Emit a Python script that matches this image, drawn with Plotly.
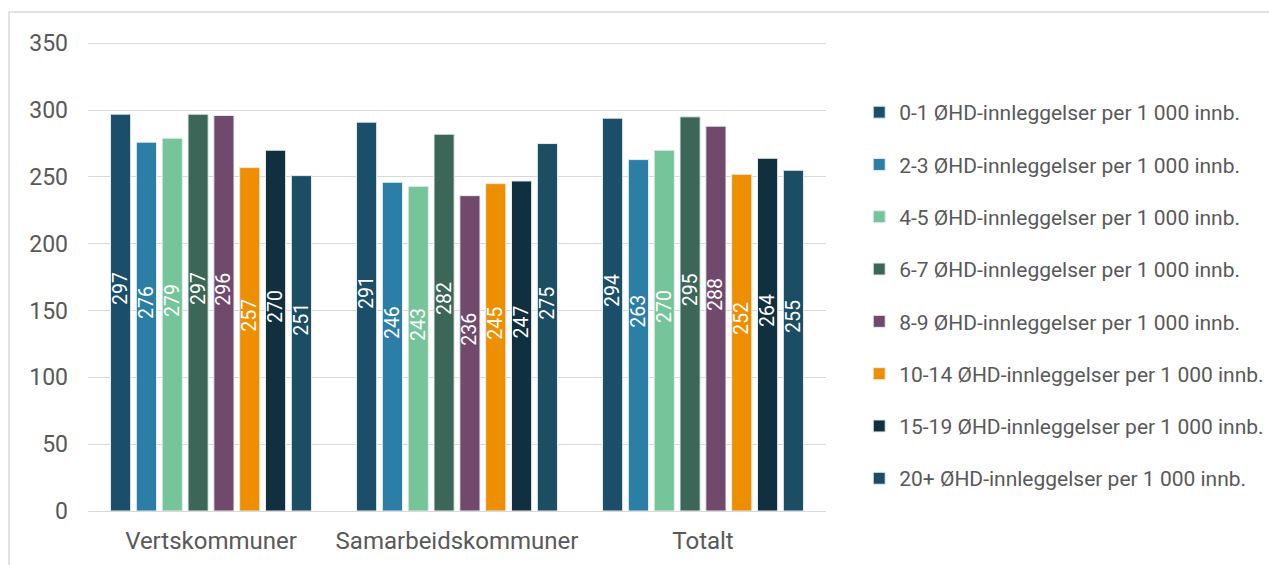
import plotly.graph_objects as go

categories = ["Vertskommuner", "Samarbeidskommuner", "Totalt"]
series_names = [
    "0-1 ØHD-innleggelser per 1 000 innb.",
    "2-3 ØHD-innleggelser per 1 000 innb.",
    "4-5 ØHD-innleggelser per 1 000 innb.",
    "6-7 ØHD-innleggelser per 1 000 innb.",
    "8-9 ØHD-innleggelser per 1 000 innb.",
    "10-14 ØHD-innleggelser per 1 000 innb.",
    "15-19 ØHD-innleggelser per 1 000 innb.",
    "20+ ØHD-innleggelser per 1 000 innb.",
]
values_0_1 = [297, 291, 294]
values_2_3 = [276, 246, 263]
values_4_5 = [279, 243, 270]
values_6_7 = [297, 282, 295]
values_8_9 = [296, 236, 288]
values_10_14 = [257, 245, 252]
values_15_19 = [270, 247, 264]
values_20p = [251, 275, 255]
series_values = [values_0_1, values_2_3, values_4_5, values_6_7,
                 values_8_9, values_10_14, values_15_19, values_20p]
colors = ["#1b4f69", "#2b7fa7", "#76c59a", "#3c6657",
          "#70496c", "#ee8f00", "#11303f", "#1b4d63"]

# Label placement: labels sit a little above the bar middle, as in the original
LABEL_LIFT = 36

fig = go.Figure()
for i, (name, vals, col) in enumerate(zip(series_names, series_values, colors)):
    fig.add_trace(go.Bar(
        name=name, x=categories, y=vals,
        marker=dict(color=col, line=dict(color="#e6ecef", width=1)),
        offsetgroup=str(i), legendgroup=f"g{i}",
        hoverinfo="y",
    ))
for i, vals in enumerate(series_values):
    fig.add_trace(go.Bar(
        x=categories, y=[v + LABEL_LIFT for v in vals],
        marker=dict(color="rgba(0,0,0,0)", line=dict(width=0)),
        text=[str(v) for v in vals], textposition="inside",
        insidetextanchor="middle", textangle=-90, constraintext="none",
        textfont=dict(color="white", size=19.5, family="Roboto"),
        offsetgroup=str(i), showlegend=False, hoverinfo="skip",
    ))

fig.update_layout(
    width=1269, height=565,
    barmode="group", bargap=0.16, bargroupgap=0.22,
    plot_bgcolor="white", paper_bgcolor="white",
    margin=dict(l=88, r=443, t=42, b=54, autoexpand=False),
    font=dict(family="Roboto", color="#595959"),
    uniformtext=dict(mode=False),
    legend=dict(x=1.045, y=0.4595, xanchor="left", yanchor="middle",
                font=dict(size=21, color="#595959"),
                tracegroupgap=22, itemwidth=30, traceorder="grouped"),
    yaxis=dict(range=[0, 351], tickvals=[0, 50, 100, 150, 200, 250, 300, 350],
               showgrid=True, gridcolor="#d9d9d9",
               gridwidth=1, zeroline=False, showline=False,
               tickfont=dict(size=23, color="#595959"), ticklabelstandoff=19),
    xaxis=dict(showline=True, linecolor="#d9d9d9", linewidth=1,
               tickfont=dict(size=24, color="#595959"), ticks="",
               ticklabelstandoff=8),
    shapes=[dict(type="rect", xref="paper", yref="paper",
                 x0=-0.107, x1=1.7, y0=-0.3, y1=1.064,
                 line=dict(color="#d9d9d9", width=1.5), fillcolor="rgba(0,0,0,0)",
                 layer="below")],
)

fig.write_html("out.html")
